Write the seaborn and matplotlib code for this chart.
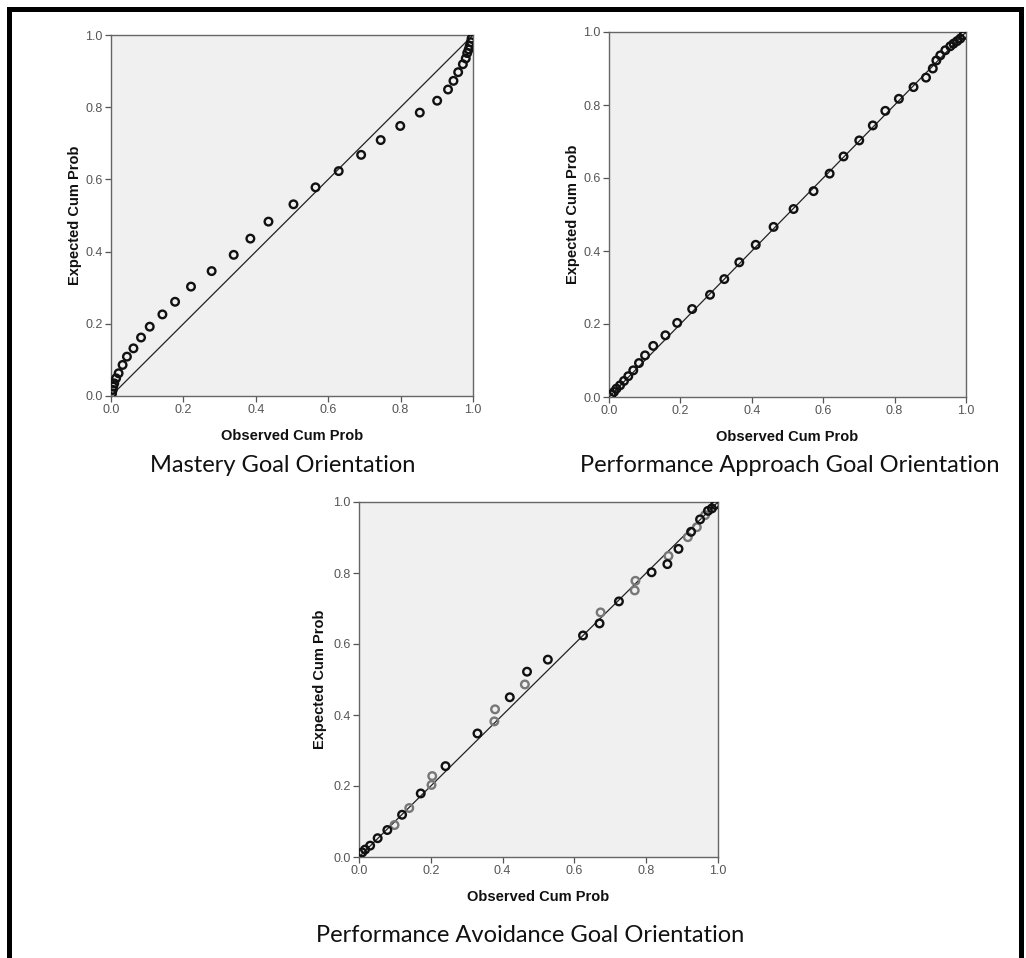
import numpy as np
import pandas as pd
import matplotlib
matplotlib.use("Agg")
import matplotlib.pyplot as plt
from matplotlib.lines import Line2D
import seaborn as sns

# ---------------- data ----------------
mastery_obs = [0.003, 0.005, 0.006, 0.009, 0.014, 0.021, 0.032, 0.044, 0.062, 0.083,
               0.107, 0.142, 0.177, 0.221, 0.278, 0.339, 0.385, 0.435, 0.504, 0.565,
               0.629, 0.691, 0.745, 0.799, 0.853, 0.901, 0.931, 0.946, 0.959, 0.972,
               0.980, 0.984, 0.988, 0.991, 0.994, 0.996]
mastery_exp = [0.007, 0.017, 0.026, 0.035, 0.049, 0.063, 0.086, 0.109, 0.132, 0.162,
               0.192, 0.226, 0.261, 0.303, 0.346, 0.391, 0.436, 0.483, 0.531, 0.578,
               0.623, 0.668, 0.709, 0.748, 0.785, 0.818, 0.849, 0.873, 0.897, 0.919,
               0.935, 0.950, 0.960, 0.970, 0.980, 0.990]

approach_obs = [0.007, 0.014, 0.021, 0.031, 0.042, 0.054, 0.068, 0.084, 0.101, 0.124,
                0.158, 0.191, 0.233, 0.283, 0.323, 0.365, 0.411, 0.461, 0.517, 0.573,
                0.618, 0.657, 0.701, 0.739, 0.774, 0.812, 0.853, 0.888, 0.907, 0.917,
                0.928, 0.942, 0.956, 0.965, 0.975, 0.984, 0.993]
approach_exp = [0.007, 0.014, 0.023, 0.032, 0.044, 0.057, 0.073, 0.093, 0.114, 0.140,
                0.169, 0.203, 0.241, 0.280, 0.323, 0.369, 0.417, 0.466, 0.515, 0.564,
                0.612, 0.659, 0.703, 0.744, 0.784, 0.817, 0.849, 0.875, 0.900, 0.922,
                0.936, 0.950, 0.961, 0.968, 0.975, 0.982, 0.991]

avoid_dark_obs = [0.009, 0.017, 0.031, 0.052, 0.079, 0.120, 0.172, 0.241, 0.330, 0.420,
                  0.468, 0.526, 0.624, 0.670, 0.724, 0.815, 0.859, 0.890, 0.925, 0.950,
                  0.972, 0.983, 0.992]
avoid_dark_exp = [0.013, 0.021, 0.032, 0.053, 0.076, 0.119, 0.179, 0.256, 0.348, 0.450,
                  0.522, 0.556, 0.624, 0.658, 0.720, 0.802, 0.825, 0.868, 0.916, 0.951,
                  0.975, 0.982, 0.992]
avoid_light_obs = [0.099, 0.140, 0.202, 0.204, 0.377, 0.379, 0.462, 0.673, 0.768, 0.770,
                   0.862, 0.916, 0.941, 0.964]
avoid_light_exp = [0.090, 0.138, 0.203, 0.228, 0.382, 0.416, 0.486, 0.689, 0.751, 0.778,
                   0.848, 0.901, 0.929, 0.963]

ref_line = [0.0, 1.0]
tick_values = [0.0, 0.2, 0.4, 0.6, 0.8, 1.0]
tick_labels = ["0.0", "0.2", "0.4", "0.6", "0.8", "1.0"]
x_title = "Observed Cum Prob"
y_title = "Expected Cum Prob"
captions = ["Mastery Goal Orientation",
            "Performance Approach Goal Orientation",
            "Performance Avoidance Goal Orientation"]

# ---------------- figure ----------------
sns.set_theme(style="white")
plt.rcParams["font.family"] = ["Liberation Sans", "DejaVu Sans"]

W, H = 1026, 958
fig = plt.figure(figsize=(W / 100, H / 100), dpi=100)
fig.patch.set_facecolor("white")


def px_axes(left, top, right, bottom):
    return fig.add_axes([left / W, 1 - bottom / H, (right - left) / W, (bottom - top) / H])


def style_axes(ax, xlab_off, ylab_off):
    ax.set_facecolor("#f0f0f0")
    ax.set_xlim(0, 1)
    ax.set_ylim(0, 1)
    ax.set_xticks(tick_values)
    ax.set_yticks(tick_values)
    ax.set_xticklabels(tick_labels)
    ax.set_yticklabels(tick_labels)
    ax.tick_params(axis="both", which="major", direction="out", length=4, width=0.9,
                   color="#555555", labelcolor="#555555", labelsize=9, pad=2,
                   bottom=True, left=True, top=False, right=False)
    for sp in ax.spines.values():
        sp.set_color("#666666")
        sp.set_linewidth(1.0)
        sp.set_visible(True)
    ax.set_xlabel(x_title, fontsize=10.5, fontweight="bold", color="#111111")
    ax.set_ylabel(y_title, fontsize=10.5, fontweight="bold", color="#111111")
    ax.xaxis.set_label_coords(0.5, xlab_off)
    ax.yaxis.set_label_coords(ylab_off, 0.5)
    ax.xaxis.label.set_va("center")
    ax.yaxis.label.set_va("center")
    ax.grid(False)


def draw_panel(ax, series):
    sns.lineplot(x=ref_line, y=ref_line, ax=ax, color="#222222", linewidth=0.9,
                 legend=False)
    for xs, ys, col in series:
        sns.scatterplot(x=xs, y=ys, ax=ax, marker="o", s=30, facecolor="none",
                        edgecolor=col, linewidth=1.7, legend=False, zorder=3)


ax1 = px_axes(111, 35, 473, 396)
draw_panel(ax1, [(mastery_obs, mastery_exp, "#111111")])
style_axes(ax1, -(436 - 396) / 361, (75 - 111) / 362)

ax2 = px_axes(609, 32, 966, 397)
draw_panel(ax2, [(approach_obs, approach_exp, "#111111")])
style_axes(ax2, -(437 - 397) / 365, (573 - 609) / 357)

ax3 = px_axes(359, 502, 718, 857)
draw_panel(ax3, [(avoid_light_obs, avoid_light_exp, "#777777"),
                 (avoid_dark_obs, avoid_dark_exp, "#111111")])
style_axes(ax3, -(897 - 857) / 355, (320 - 359) / 359)

# captions
cap_font = ["Lato", "DejaVu Sans"]
fig.text(283 / W, 1 - 465 / H, captions[0], ha="center", va="center", fontsize=17,
         family=cap_font, color="#111111")
fig.text(790 / W, 1 - 465 / H, captions[1], ha="center", va="center", fontsize=17,
         family=cap_font, color="#111111")
fig.text(530 / W, 1 - 936 / H, captions[2], ha="center", va="center", fontsize=17,
         family=cap_font, color="#111111")

# outer border (left, top, right)
bw = 3.6
fig.add_artist(Line2D([9 / W, 9 / W], [0, 1 - 9 / H], transform=fig.transFigure,
                      color="black", linewidth=bw, solid_capstyle="projecting"))
fig.add_artist(Line2D([9 / W, 1 - 5 / W], [1 - 9 / H, 1 - 9 / H], transform=fig.transFigure,
                      color="black", linewidth=bw, solid_capstyle="projecting"))
fig.add_artist(Line2D([1 - 5 / W, 1 - 5 / W], [0, 1 - 9 / H], transform=fig.transFigure,
                      color="black", linewidth=bw, solid_capstyle="projecting"))

fig.savefig("out.png", dpi=100, facecolor="white")
